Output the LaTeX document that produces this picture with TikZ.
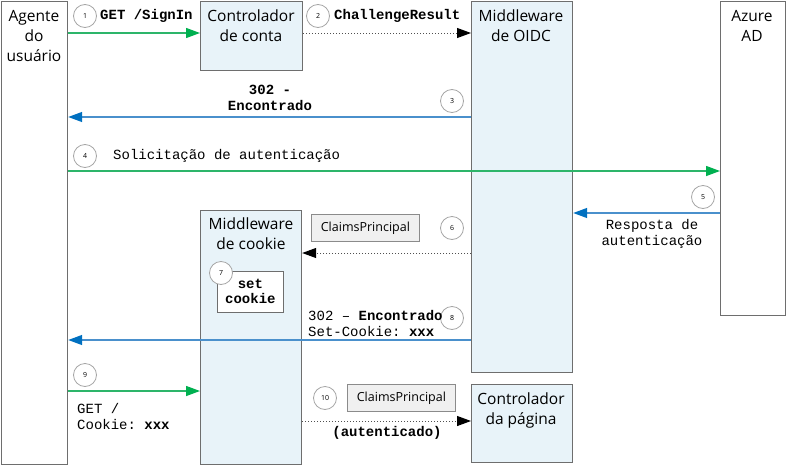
\documentclass[tikz,border=0pt]{standalone}
\usepackage{fontspec}
\setmainfont{Open Sans}
\setsansfont{Open Sans}
\setmonofont{Liberation Mono}
\usetikzlibrary{arrows.meta}
\definecolor{boxfill}{HTML}{E8F3F9}
\definecolor{boxdraw}{HTML}{6E6E6E}
\definecolor{agreen}{HTML}{00B050}
\definecolor{lgreen}{HTML}{2DB56A}
\definecolor{ablue}{HTML}{0070C0}
\definecolor{lblue}{HTML}{4A90CC}
\definecolor{cpfill}{HTML}{F0F0F0}
\definecolor{circdraw}{HTML}{A6A6A6}
\definecolor{dotc}{HTML}{505050}
\begin{document}
\begin{tikzpicture}[x=1pt,y=-1pt,
  lane/.style={draw=boxdraw, line width=1.2pt, anchor=north west, inner sep=0pt},
  bluelane/.style={lane, fill=boxfill},
  whitelane/.style={lane, fill=white},
  title/.style={anchor=north, align=center, inner sep=0pt, font=\fontsize{15.5}{20}\selectfont},
  num/.style={circle, draw=circdraw, fill=white, line width=0.8pt, minimum size=23pt, inner sep=0pt, font=\sffamily\fontsize{7}{7}\selectfont},
  cp/.style={draw=boxdraw!80, fill=cpfill, line width=0.8pt, anchor=north west, inner sep=0pt, font=\fontsize{12.5}{14}\selectfont},
  mono/.style={inner sep=0pt, font=\ttfamily\fontsize{14}{16}\selectfont},
  monob/.style={inner sep=0pt, font=\ttfamily\bfseries\fontsize{14}{16}\selectfont},
  greenarrow/.style={draw=lgreen, line width=1.3pt, -{Triangle[length=14pt,width=10pt,fill=agreen,color=agreen]}},
  bluearrow/.style={draw=lblue, line width=1.3pt, -{Triangle[length=14pt,width=10pt,fill=ablue,color=ablue]}},
  dotarrow/.style={draw=dotc, line width=1pt, dash pattern=on 1pt off 2pt, -{Triangle[length=14pt,width=10pt,fill=black,color=black]}},
]
\useasboundingbox (0,0) rectangle (787,466);

% lanes
\node[whitelane, minimum width=66pt, minimum height=463pt] (agent) at (1,1) {};
\node[bluelane, minimum width=102pt, minimum height=69pt] (conta) at (200,1) {};
\node[bluelane, minimum width=101pt, minimum height=371pt] (oidc) at (471,1) {};
\node[whitelane, minimum width=65pt, minimum height=314pt] (azure) at (720,1) {};
\node[bluelane, minimum width=101pt, minimum height=254pt] (cookie) at (200,210) {};
\node[bluelane, minimum width=101pt, minimum height=78pt] (pagina) at (471,384) {};

% titles
\node[title] (tagent) at (34,10) {Agente\\do\\usuário};
\node[title] (tconta) at (251,10) {Controlador\\de conta};
\node[title] (toidc) at (521,10) {Middleware\\de OIDC};
\node[title] (tazure) at (752,10) {Azure\\AD};
\node[title] (tcookie) at (251,218) {Middleware\\de cookie};
\node[title] (tpagina) at (521,393) {Controlador\\da página};

% inner boxes
\node[draw=boxdraw, fill=white, line width=0.8pt, anchor=north west, minimum width=66pt, minimum height=41pt, inner sep=0pt, align=center, font=\ttfamily\bfseries\fontsize{14}{15}\selectfont] (setc) at (217,271) {set\\cookie};
\node[cp, minimum width=108pt, minimum height=27pt] (cp1) at (311,214) {ClaimsPrincipal};
\node[cp, minimum width=108pt, minimum height=27pt] (cp2) at (347,384) {ClaimsPrincipal};

% y levels
\coordinate (y1) at (0,33);
\coordinate (y3) at (0,117);
\coordinate (y4) at (0,171);
\coordinate (y5) at (0,213);
\coordinate (y6) at (0,253);
\coordinate (y8) at (0,340);
\coordinate (y9) at (0,391);
\coordinate (y10) at (0,421);

% arrows
\draw[greenarrow] (agent.east |- y1) -- (conta.west |- y1);
\draw[dotarrow] (conta.east |- y1) -- (oidc.west |- y1);
\draw[bluearrow] (oidc.west |- y3) -- (agent.east |- y3);
\draw[greenarrow] (agent.east |- y4) -- (azure.west |- y4);
\draw[bluearrow] (azure.west |- y5) -- (oidc.east |- y5);
\draw[dotarrow] (oidc.west |- y6) -- (cookie.east |- y6);
\draw[bluearrow] (oidc.west |- y8) -- (agent.east |- y8);
\draw[greenarrow] (agent.east |- y9) -- (cookie.west |- y9);
\draw[dotarrow] (cookie.east |- y10) -- (pagina.west |- y10);

% number circles
\node[num] (n1) at (85,16) {1};
\node[num] (n2) at (318,16) {2};
\node[num] (n3) at (452,101) {3};
\node[num] (n4) at (85,156) {4};
\node[num] (n5) at (703,197) {5};
\node[num] (n6) at (452,228) {6};
\node[num] (n7) at (221,273) {7};
\node[num] (n8) at (452,318) {8};
\node[num] (n9) at (85,375) {9};
\node[num] (n10) at (325,398) {10};

% labels
\node[monob, anchor=west] (l1) at (100,16) {GET /SignIn};
\node[monob, anchor=west] (l2) at (334,16) {ChallengeResult};
\node[monob, align=center] (l3) at (270,98) {302 -\\Encontrado};
\node[mono, anchor=west] (l4) at (113,156) {Solicitação de autenticação};
\node[mono, align=center] (l5) at (652,234) {Resposta de\\autenticação};
\node[mono, align=left, anchor=west] (l8) at (308,323) {302 – \textbf{Encontrado}\\Set-Cookie: \textbf{xxx}};
\node[mono, align=left, anchor=west] (l9) at (77,416) {GET /\\Cookie: \textbf{xxx}};
\node[monob] (l10) at (387,433) {(autenticado)};
\end{tikzpicture}
\end{document}
